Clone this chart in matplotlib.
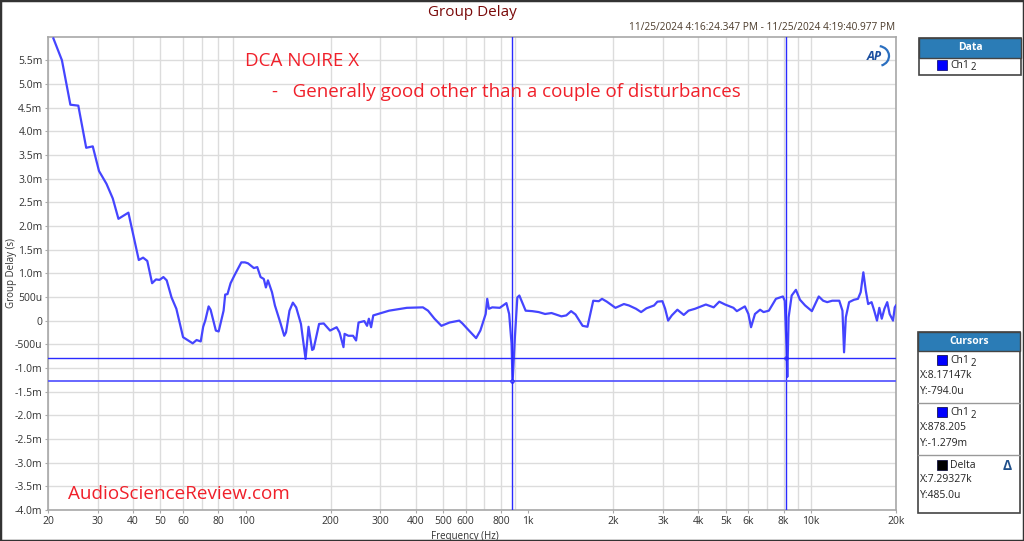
import numpy as np
import matplotlib
matplotlib.use('Agg')
import matplotlib.pyplot as plt
from matplotlib.patches import Rectangle, Arc
from matplotlib.transforms import IdentityTransform
from matplotlib.ticker import FixedLocator, NullLocator

plt.rcParams['font.family'] = ['Open Sans', 'DejaVu Sans']

# Group delay trace (frequency in Hz, delay in ms)
freq_hz = [20.9, 22.4, 24.0, 25.6, 27.3, 28.8, 30.3, 32.2, 33.9, 35.5,
           38.5, 41.9, 43.4, 44.9, 46.7, 48.2, 49.6, 51.2, 52.6, 54.7,
           56.9, 60.1, 65.0, 67.1, 69.4, 70.8, 72.0, 74.0, 75.2, 78.5,
           80.3, 83.6, 84.7, 86.3, 88.5, 91.6, 96.6, 99.5, 102, 107,
           110, 113, 116, 118, 120, 124, 127, 133, 137, 139,
           143, 147, 151, 157, 163, 167, 172, 174, 182, 189,
           199, 210, 215, 222, 224, 231, 240, 246, 251, 263,
           269, 273, 278, 283, 298, 322, 372, 424, 442, 466,
           493, 527, 570, 585, 617, 654, 677, 707, 716, 726,
           746, 793, 837, 856, 873, 880, 897, 915, 930, 979,
           1033, 1089, 1147, 1209, 1310, 1363, 1418, 1469, 1557, 1620,
           1698, 1777, 1824, 1897, 2035, 2180, 2270, 2406, 2508, 2619,
           2787, 2864, 2983, 3050, 3125, 3220, 3370, 3550, 3690, 3890,
           4250, 4530, 4740, 4970, 5320, 5470, 5840, 6010, 6140, 6340,
           6610, 6800, 7100, 7520, 7960, 8080, 8200, 8250, 8340, 8550,
           8850, 9150, 9540, 10080, 10660, 11050, 11420, 11900, 12600, 12930,
           13100, 13290, 13650, 14200, 14670, 15000, 15330, 15640, 15940, 16390,
           16750, 17130, 17460, 17810, 18200, 18620, 18990, 19520, 19800, 20000]
delay_ms = [5.96, 5.50, 4.56, 4.54, 3.65, 3.68, 3.16, 2.89, 2.58, 2.15,
            2.28, 1.28, 1.33, 1.26, 0.79, 0.87, 0.86, 0.92, 0.85, 0.49,
            0.25, -0.35, -0.48, -0.41, -0.44, -0.13, 0.00, 0.30, 0.23, -0.21,
            -0.23, 0.21, 0.55, 0.56, 0.79, 0.97, 1.23, 1.23, 1.21, 1.11,
            1.13, 0.92, 0.88, 0.70, 0.85, 0.60, 0.32, -0.06, -0.32, -0.25,
            0.21, 0.38, 0.28, -0.07, -0.81, -0.13, -0.62, -0.60, -0.07, -0.06,
            -0.21, -0.14, -0.25, -0.56, -0.28, -0.32, -0.32, -0.42, -0.04, -0.01,
            -0.11, 0.04, -0.14, 0.11, 0.15, 0.21, 0.27, 0.28, 0.21, 0.04,
            -0.11, -0.04, 0.00, -0.06, -0.21, -0.37, -0.21, 0.14, 0.46, 0.25,
            0.28, 0.27, 0.37, 0.14, -0.49, -1.31, -0.35, 0.49, 0.53, 0.21,
            0.20, 0.18, 0.14, 0.16, 0.09, 0.11, 0.20, 0.13, -0.11, -0.13,
            0.42, 0.41, 0.46, 0.40, 0.27, 0.35, 0.32, 0.25, 0.18, 0.26,
            0.32, 0.40, 0.41, 0.25, 0.00, 0.11, 0.23, 0.12, 0.21, 0.25,
            0.34, 0.28, 0.40, 0.34, 0.27, 0.20, 0.30, 0.14, -0.14, 0.14,
            0.23, 0.18, 0.21, 0.46, 0.51, 0.42, -0.56, -1.19, 0.07, 0.53,
            0.65, 0.44, 0.32, 0.20, 0.51, 0.42, 0.39, 0.42, 0.42, 0.21,
            -0.67, 0.07, 0.39, 0.44, 0.46, 0.60, 1.02, 0.63, 0.35, 0.39,
            0.21, 0.00, 0.27, 0.04, 0.25, 0.39, 0.14, 0.00, 0.28, 0.32]

cursor_x = [8171.47, 878.205]
cursor_y = [-0.794, -1.279]

x_ticks = [20, 30, 40, 50, 60, 80, 100, 200, 300, 400, 500, 600, 800,
           1000, 2000, 3000, 4000, 5000, 6000, 8000, 10000, 20000]
x_labels = ['20', '30', '40', '50', '60', '80', '100', '200', '300', '400', '500',
            '600', '800', '1k', '2k', '3k', '4k', '5k', '6k', '8k', '10k', '20k']
x_grid = [d * m for d in (10, 100, 1000) for m in range(2, 10)] + [10000, 20000]
y_ticks = [5.5, 5.0, 4.5, 4.0, 3.5, 3.0, 2.5, 2.0, 1.5, 1.0, 0.5, 0,
           -0.5, -1.0, -1.5, -2.0, -2.5, -3.0, -3.5, -4.0]


def y_fmt(v):
    if v == 0:
        return '0'
    if abs(v) < 1:
        return '%du' % round(v * 1000)
    return '%.1fm' % v


W, H = 1024, 541
fig = plt.figure(figsize=(W / 100, H / 100), dpi=100)
fig.patch.set_facecolor('white')


def fx(x):
    return x / W


def fy(y):
    return 1 - y / H


ax = fig.add_axes([fx(48), fy(510), fx(896) - fx(48), fy(37) - fy(510)])
ax.set_xscale('log')
ax.set_xlim(20, 20000)
ax.set_ylim(-4.0, 5.99)

ax.xaxis.set_major_locator(FixedLocator(x_ticks))
ax.set_xticklabels(x_labels)
ax.xaxis.set_minor_locator(NullLocator())
ax.set_yticks(y_ticks)
ax.set_yticklabels([y_fmt(v) for v in y_ticks])
for g in x_grid:
    ax.axvline(g, color='#dcdcdc', lw=1.0, zorder=0)
for v in y_ticks:
    ax.axhline(v, color='#dcdcdc', lw=1.0, zorder=0)
ax.tick_params(axis='both', length=2, color='#aaaaaa', labelsize=7.5,
               labelcolor='#333333', pad=2)
for s in ax.spines.values():
    s.set_color('#a8a8a8')
    s.set_linewidth(1.2)

ax.plot(freq_hz, delay_ms, color='#4545ff', lw=1.6, zorder=3)

# cursors
ax.axvline(cursor_x[0], color='#2a2aff', lw=1.0, zorder=4)
ax.axvline(cursor_x[1], color='#2a2aff', lw=1.0, zorder=4)
ax.axhline(cursor_y[0], color='#2a2aff', lw=1.0, zorder=4)
ax.axhline(cursor_y[1], color='#5a5aff', lw=1.3, zorder=4)
ax.plot(cursor_x, cursor_y, 'o', ms=2.5, mfc='none', mec='#2a2aff', mew=0.7, zorder=5)

ax.set_xlabel('Frequency (Hz)', fontsize=7, color='#333333', labelpad=0)
ax.xaxis.set_label_coords(0.492, -0.045)
ax.set_ylabel('Group Delay (s)', fontsize=7, color='#333333')
ax.yaxis.set_label_coords(-0.036, 0.5)

# titles
fig.text(fx(472), fy(12), 'Group Delay', ha='center', va='center',
         fontsize=11, color='#7a0a0a')
fig.text(fx(895), fy(28), '11/25/2024 4:16:24.347 PM - 11/25/2024 4:19:40.977 PM',
         ha='right', va='center', fontsize=7.3, color='#4a3a2a')

red = '#f0202a'
fig.text(fx(245), fy(61), 'DCA NOIRE X', ha='left', va='center', fontsize=13.5, color=red)
fig.text(fx(272), fy(92), '-   Generally good other than a couple of disturbances',
         ha='left', va='center', fontsize=13.5, color=red)
fig.text(fx(68), fy(494), 'AudioScienceReview.com', ha='left', va='center',
         fontsize=13.6, color=red)

# AP logo
fig.text(fx(874), fy(56), 'AP', ha='center', va='center', fontsize=9,
         fontweight='bold', style='italic', color='#1c4fa0')
fig.add_artist(Arc((878, H - 56), 22, 20, theta1=-70, theta2=80,
                   transform=IdentityTransform(), color='#2a6fc0', lw=1.6))

# outer border
fig.add_artist(Rectangle((0, 0), 1, 1, transform=fig.transFigure, fill=False,
                         edgecolor='#333333', lw=2.5))

hdr = '#2b7cb6'


def box(x0, y0, x1, y1, **kw):
    fig.add_artist(Rectangle((fx(x0), fy(y1)), fx(x1) - fx(x0), fy(y0) - fy(y1),
                             transform=fig.transFigure, **kw))


# Data panel
box(919, 38, 1021, 75, facecolor='white', edgecolor='#444444', lw=1.2)
box(919, 38, 1021, 58, facecolor=hdr, edgecolor='#444444', lw=1.0)
fig.text(fx(970), fy(47.5), 'Data', ha='center', va='center', fontsize=7.5,
         fontweight='bold', color='white')
box(937, 60, 947, 70, facecolor='#0000ff', edgecolor='#000066', lw=0.5)
fig.text(fx(950), fy(65.5), 'Ch1', ha='left', va='center', fontsize=7.5, color='#222222')
fig.text(fx(971), fy(68), '2', ha='left', va='center', fontsize=7, color='#222222')

# Cursors panel
box(918, 332, 1020, 513, facecolor='white', edgecolor='#444444', lw=1.2)
box(918, 332, 1020, 351, facecolor=hdr, edgecolor='#444444', lw=1.0)
fig.text(fx(969), fy(341.5), 'Cursors', ha='center', va='center', fontsize=7.5,
         fontweight='bold', color='white')
sections = [(354, '#0000ff', 'Ch1', 'X:8.17147k', 'Y:-794.0u'),
            (406, '#0000ff', 'Ch1', 'X:878.205', 'Y:-1.279m'),
            (459, '#000000', 'Delta', 'X:7.29327k', 'Y:485.0u')]
for i, (y0, col, name, xs, ys) in enumerate(sections):
    box(937, y0 + 1, 947, y0 + 11, facecolor=col, edgecolor='#000033', lw=0.5)
    fig.text(fx(950), fy(y0 + 6.5), name, ha='left', va='center', fontsize=7.5,
             color='#222222')
    if name == 'Ch1':
        fig.text(fx(971), fy(y0 + 9), '2', ha='left', va='center', fontsize=7,
                 color='#222222')
    fig.text(fx(920), fy(y0 + 21), xs, ha='left', va='center', fontsize=7.5,
             color='#222222')
    fig.text(fx(920), fy(y0 + 37), ys, ha='left', va='center', fontsize=7.5,
             color='#222222')
    if i < 2:
        fig.add_artist(plt.Line2D([fx(918), fx(1020)], [fy(y0 + 49), fy(y0 + 49)],
                                  transform=fig.transFigure, color='#999999', lw=1.0))
fig.text(fx(1007), fy(466), '\u0394', ha='center', va='center', fontsize=10,
         fontweight='bold', color='#1f4f8a')

fig.savefig('out.png', dpi=100)
